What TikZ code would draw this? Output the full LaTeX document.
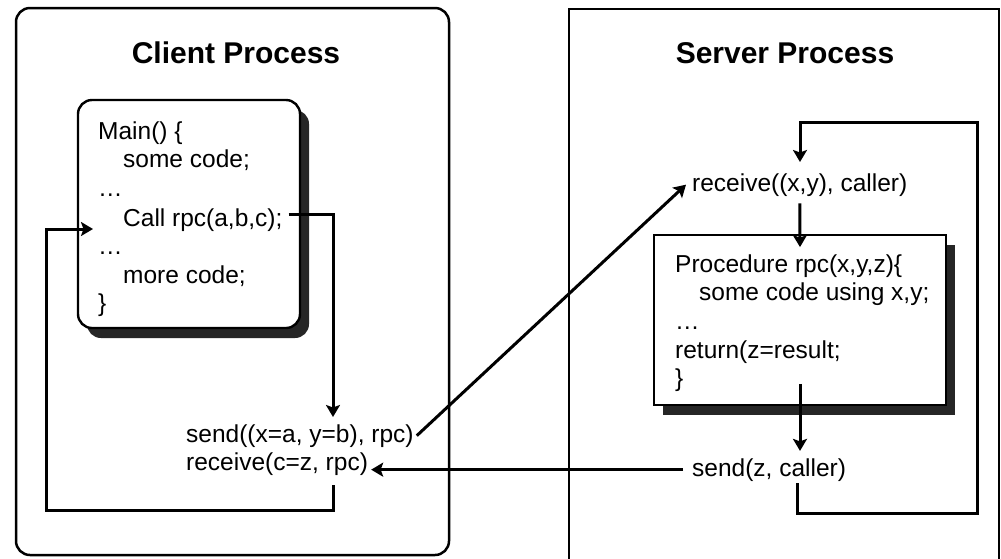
\documentclass[tikz,border=0pt]{standalone}
\usepackage{fontspec}
\setmainfont{Liberation Sans}
\usetikzlibrary{shadows,arrows.meta,calc}
\begin{document}
\begin{tikzpicture}[x=1pt,y=-1pt,
  title/.style={font=\fontsize{30}{36}\selectfont\bfseries, anchor=base, inner sep=0pt},
  code/.style={font=\fontsize{24.5}{29}\selectfont, anchor=base west, inner sep=0pt},
  arr/.style={line width=3pt, -{Stealth[length=12pt,width=14pt,inset=2.5pt]}},
  clientbox/.style={draw, line width=2.5pt, rounded corners=14pt, minimum width=433pt, minimum height=547pt, inner sep=0pt},
  serverbox/.style={draw, line width=1.8pt, minimum width=430pt, minimum height=562pt, inner sep=0pt},
  mainbox/.style={draw, line width=2.4pt, fill=white, rounded corners=14pt, minimum width=222pt, minimum height=228pt, inner sep=0pt,
    drop shadow={shadow xshift=9pt, shadow yshift=-10pt, fill=black!85, opacity=1}},
  procbox/.style={draw, line width=1.8pt, fill=white, minimum width=292pt, minimum height=170pt, inner sep=0pt,
    drop shadow={shadow xshift=9pt, shadow yshift=-10pt, fill=black!85, opacity=1}},
]
\clip (0,0) rectangle (1001,558);
\fill[white] (0,0) rectangle (1001,558);

% process boxes
\node[clientbox] (client) at (232.5,281.5) {};
\node[serverbox] (server) at (784,290) {};
\node[title] (ctitle) at (236,63) {Client Process};
\node[title] (stitle) at (785,63) {Server Process};

% client main box
\node[mainbox] (mainb) at (189,214) {};
\node[code] (m1) at (98,139) {Main() \{};
\node[code] (m2) at (123,167) {some code;};
\node[code] (m3) at (98,196) {…};
\node[code] (call) at (123,226) {Call rpc(a,b,c);};
\node[code] (m5) at (98,254) {…};
\node[code] (m6) at (123,283) {more code;};
\node[code] (m7) at (98,311) {\}};

\node[code] (send) at (186,442) {send((x=a, y=b), rpc)};
\node[code] (recv) at (186,470) {receive(c=z, rpc)};

% server
\node[code] (srecv) at (692,191) {receive((x,y), caller)};
\node[procbox] (procb) at (800,320) {};
\node[code] (p1) at (675,272) {Procedure rpc(x,y,z)\{};
\node[code] (p2) at (699,300) {some code using x,y;};
\node[code] (p3) at (675,329) {…};
\node[code] (p4) at (675,358) {return(z=result;};
\node[code] (p5) at (675,386) {\}};
\node[code] (ssend) at (692,476) {send(z, caller)};

% coordinates
\coordinate (cA) at (333,417);
\coordinate (lB) at (333,510);
\coordinate (lC) at (46,510);
\coordinate (lD) at (46,229);
\coordinate (lE) at (93,229);
\coordinate (sB) at (797,513);
\coordinate (sC) at (977,513);
\coordinate (sD) at (977,122);
\coordinate (sE) at (800,122);
\coordinate (sF) at (800,162);

% connectors
\draw[arr] ([xshift=6pt,yshift=5pt]call.east) -| (cA);
\draw[arr] ($(recv.south -| lB)+(0,10)$) -- (lB) -- (lC) -- (lD) -- (lE);
\draw[arr] ([xshift=3pt]send.east) -- ([xshift=-6pt]srecv.west);
\draw[arr] ([yshift=-7pt]srecv.south) -- ([yshift=-13pt]procb.north);
\draw[arr] ([yshift=22pt]procb.south) -- ([yshift=-45pt]procb.south);
\draw[arr] ([xshift=-9pt]ssend.west) -- ($(ssend.west -| recv.east)+(3,0)$);
\draw[arr] ($(ssend.south -| sB)+(0,2)$) -- (sB) -- (sC) -- (sD) -- (sE) -- (sF);
\end{tikzpicture}
\end{document}
